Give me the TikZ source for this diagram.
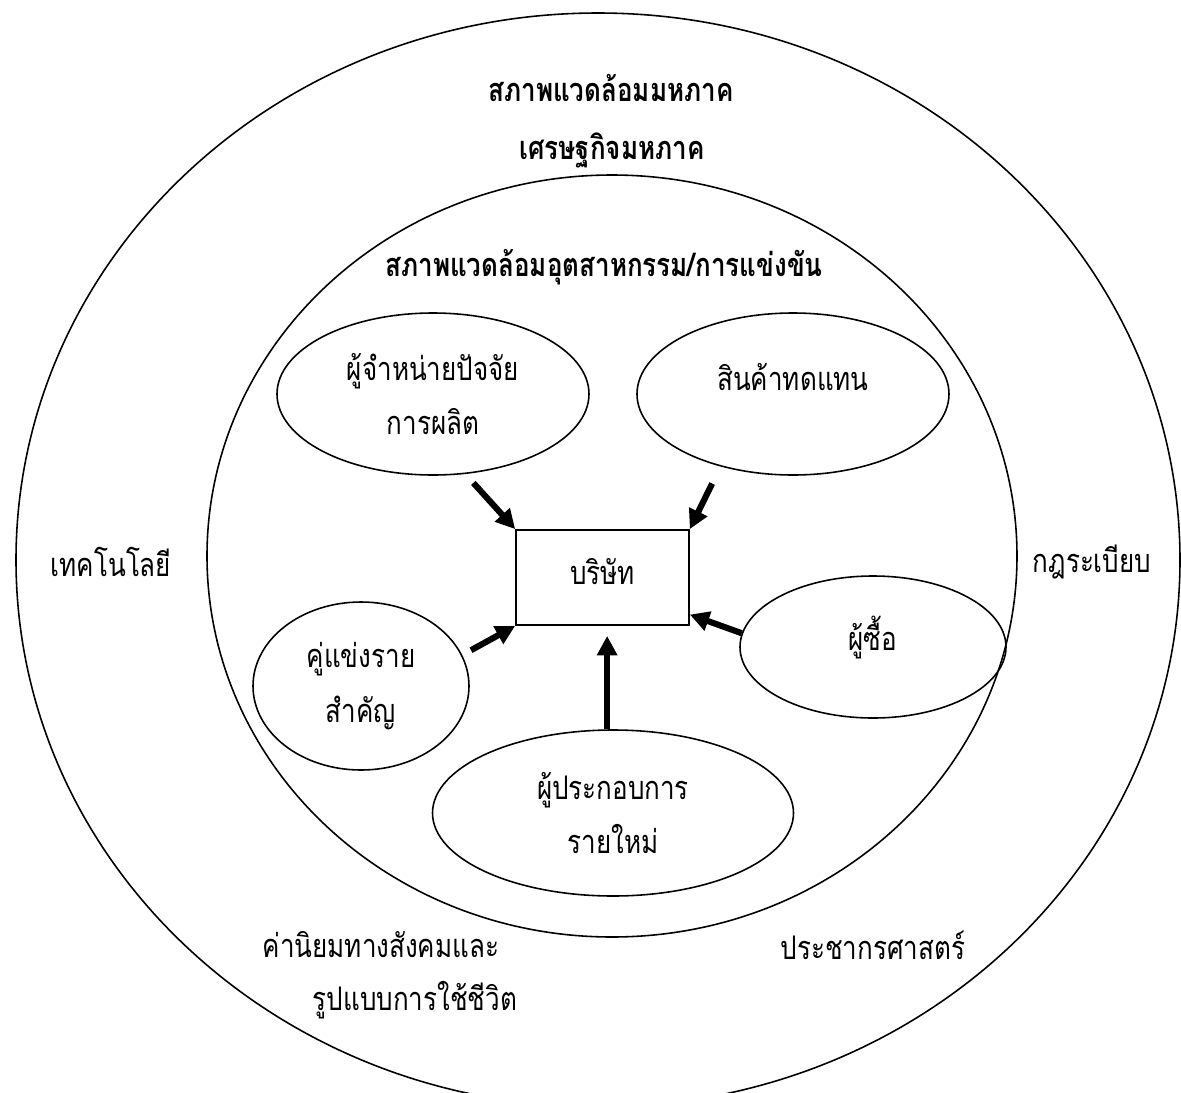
\documentclass[tikz,border=0pt]{standalone}
\usepackage{fontspec}
\setmainfont[Script=Thai,FakeStretch=0.8]{Loma}
\usetikzlibrary{arrows.meta,positioning,shapes.geometric,calc}

\tikzset{
  ring/.style={draw,line width=0.9pt},
  head/.style={font=\fontsize{18.5}{20}\selectfont\bfseries,inner sep=0pt},
  envtext/.style={font=\fontsize{18.5}{20}\selectfont,inner sep=0pt},
  force/.style={ellipse,draw,line width=0.9pt,inner sep=0pt,align=center,
    font=\fontsize{18.5}{31}\selectfont},
  firmbox/.style={draw,line width=1.1pt,minimum width=98.3pt,minimum height=54pt,
    inner sep=0pt,font=\fontsize{18.5}{20}\selectfont},
  push/.style={line width=3.5pt,-{Triangle[length=11pt,width=11pt]}},
}

\begin{document}
\begin{tikzpicture}[x=0.02cm,y=-0.02cm]
  \def\unitpx{0.02cm}
  \useasboundingbox (0,0) rectangle (1181,1093);
  % macro and industry rings
  \draw[ring] (598,560) ellipse [x radius=582,y radius=547];
  \draw[ring] (612,556) ellipse [x radius=405,y radius=381];
  \node[head] (macro) at (611,88) {สภาพแวดล้อมมหภาค};
  \node[head] (econ) at (612,150) {เศรษฐกิจมหภาค};
  \node[head] (ind) at (604,267) {สภาพแวดล้อมอุตสาหกรรม/การแข่งขัน};
  \node[envtext] (tech) at (111,562) {เทคโนโลยี};
  \node[envtext] (law) at (1092,562) {กฎระเบียบ};
  \node[envtext] (soca) at (381,945) {ค่านิยมทางสังคมและ};
  \node[envtext] (socb) at (415,1000) {รูปแบบการใช้ชีวิต};
  \node[envtext] (demo) at (873,945) {ประชากรศาสตร์};
  % firm and five forces
  \node[firmbox,text depth=7pt] (firm) at (602.5,577.5) {บริษัท};
  \node[force,minimum width=312*\unitpx,minimum height=162*\unitpx] (sup) at (433,394) {ผู้จำหน่ายปัจจัย\\การผลิต};
  \node[force,minimum width=312*\unitpx,minimum height=162*\unitpx,text depth=19pt] (sub) at (793,394) {สินค้าทดแทน};
  \node[force,minimum width=216*\unitpx,minimum height=168*\unitpx] (riv) at (361,686) {คู่แข่งราย\\สำคัญ};
  \node[force,minimum width=266*\unitpx,minimum height=142*\unitpx,text depth=16pt] (buy) at (873,647) {ผู้ซื้อ};
  \node[force,minimum width=361*\unitpx,minimum height=166*\unitpx] (ent) at (613,813) {ผู้ประกอบการ\\รายใหม่};
  \draw[push,shorten <=6.8pt] (sup.-68) -- (firm.north west);
  \draw[push,shorten <=10.8pt] (sub.-135) -- (firm.north east);
  \draw[push,shorten <=5.7pt] (riv.17) -- (firm.south west);
  \draw[push] (buy.174) -- (firm.-23);
  \draw[push,shorten >=5.7pt] (ent.94) -- (ent.94 |- firm.south);
\end{tikzpicture}
\end{document}
